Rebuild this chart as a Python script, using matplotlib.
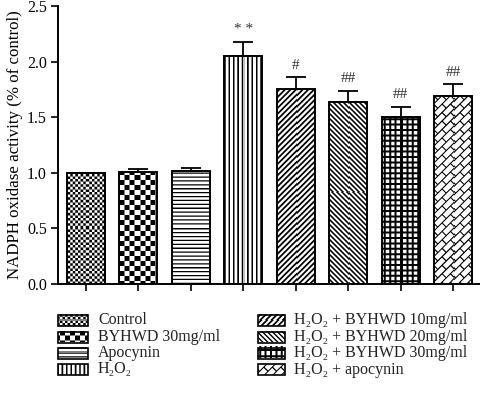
import numpy as np
import matplotlib
matplotlib.use("Agg")
import matplotlib.pyplot as plt
from matplotlib.patches import Rectangle

# ---------------- data ----------------
groups = ["Control", "BYHWD 30mg/ml", "Apocynin", "H₂O₂",
          "H₂O₂ + BYHWD 10mg/ml", "H₂O₂ + BYHWD 20mg/ml",
          "H₂O₂ + BYHWD 30mg/ml", "H₂O₂ + apocynin"]
values = [1.00, 1.01, 1.02, 2.05, 1.75, 1.64, 1.50, 1.69]
errors = [0.00, 0.02, 0.02, 0.13, 0.11, 0.10, 0.095, 0.11]
marks = ["", "", "", "* *", "#", "##", "##", "##"]
patterns = ["checker_fine", "checker_big", "hlines", "vlines",
            "diag_up", "diag_down", "grid", "brick"]
yticks = [0.0, 0.5, 1.0, 1.5, 2.0, 2.5]
ylabel = "NADPH oxidase activity (% of control)"

plt.rcParams["font.family"] = ["Liberation Serif", "DejaVu Serif"]

W, H = 481, 401
fig = plt.figure(figsize=(W / 100, H / 100), dpi=100)


def darkness(kind, X, Y):
    if kind == "checker_fine":
        c = 2.6
        return ((np.floor(X / c) + np.floor(Y / c)) % 2).astype(float)
    if kind == "checker_big":
        c = 5.0
        return ((np.floor(X / c) + np.floor(Y / c)) % 2).astype(float)
    if kind == "hlines":
        return ((Y % 3.9) < 1.3).astype(float)
    if kind == "vlines":
        return ((X % 4.4) < 1.6).astype(float)
    if kind == "diag_up":
        return (((X - Y) % 5.6) < 2.5).astype(float)
    if kind == "diag_down":
        return (((X + Y) % 5.0) < 2.2).astype(float)
    if kind == "grid":
        P, w = 5.4, 2.0
        return (((X % P) < w) | ((Y % P) < w)).astype(float)
    if kind == "brick":
        s2 = np.sqrt(2)
        p = (X - Y) / s2
        q = (X + Y) / s2
        P, Q, w = 6.0, 12.0, 1.1
        row = np.floor(p / P)
        off = (row % 2) * Q / 2
        return (((p % P) < w) | (((q + off) % Q) < w)).astype(float)
    return np.zeros_like(X)


def texture(kind, x0, y0, x1, y1, ss=4):
    nw = max(1, int(round(x1 - x0)))
    nh = max(1, int(round(y1 - y0)))
    xs = x0 + (np.arange(nw * ss) + 0.5) / ss
    ys = y0 + (np.arange(nh * ss) + 0.5) / ss
    X, Y = np.meshgrid(xs, ys)
    d = darkness(kind, X, Y)
    d = d.reshape(nh, ss, nw, ss).mean(axis=(1, 3))
    return 1.0 - d


# ---------------- main axes ----------------
ax = fig.add_axes([58 / W, (H - 284) / H, (480 - 58) / W, 278 / H])
x = np.arange(len(values))
ax.set_xlim(-0.535, 7.515)
ax.set_ylim(0, 2.5)

ax.errorbar(x, values, yerr=[np.zeros(len(errors)), errors], fmt="none",
            ecolor="black", elinewidth=1.3, capsize=7.5, capthick=1.3, zorder=1)
bars = ax.bar(x, values, width=0.725, color="white", edgecolor="none", zorder=2)

for b, kind in zip(bars, patterns):
    (dx0, dy0), (dx1, dy1) = ax.transData.transform(
        [(b.get_x(), 0), (b.get_x() + b.get_width(), b.get_height())])
    img = texture(kind, dx0, dy0, dx1, dy1)
    im = ax.imshow(img, extent=[b.get_x(), b.get_x() + b.get_width(), 0, b.get_height()],
                   origin="lower", cmap="gray", vmin=0, vmax=1,
                   interpolation="nearest", aspect="auto", zorder=2.5)
    im.set_clip_path(b)

ax.bar(x, values, width=0.725, fill=False, edgecolor="black", linewidth=1.4, zorder=3)

for xi, v, e, m in zip(x, values, errors, marks):
    if m:
        ax.annotate(m, (xi, v + e), xytext=(0, 8.5), textcoords="offset points",
                    ha="center", va="center", fontsize=11, color="#333333")

ax.set_aspect("auto")
ax.set_yticks(yticks)
ax.set_yticklabels([f"{t:.1f}" for t in yticks], fontsize=11.5)
ax.set_xticks(x)
ax.set_xticklabels([])
ax.tick_params(axis="both", direction="out", length=5, width=1.2, colors="black")
ax.tick_params(axis="y", pad=3)
for s in ["top", "right"]:
    ax.spines[s].set_visible(False)
for s in ["left", "bottom"]:
    ax.spines[s].set_linewidth(1.4)
ax.set_ylabel(ylabel, fontsize=12.2, labelpad=3)

# ---------------- legend (pixel coordinates) ----------------
lax = fig.add_axes([0, 0, 1, 101 / H])
lax.set_xlim(0, W)
lax.set_ylim(101, 0)
lax.axis("off")
row_y = [20.5, 37, 53, 69.5]
col_hx = [58, 258]
col_hw = [30, 27]
col_tx = [98, 294]
for i, (lab, kind) in enumerate(zip(groups, patterns)):
    col, row = divmod(i, 4)
    hx, hw = col_hx[col], col_hw[col]
    cy = row_y[row]
    hh = 11
    (px0, py0), (px1, py1) = lax.transData.transform([(hx, cy + hh / 2), (hx + hw, cy - hh / 2)])
    img = texture(kind, px0, py0, px1, py1)
    lax.imshow(img, extent=[hx, hx + hw, cy + hh / 2, cy - hh / 2], origin="lower",
               cmap="gray", vmin=0, vmax=1, interpolation="nearest",
               aspect="auto", zorder=2)
    lax.add_patch(Rectangle((hx, cy - hh / 2), hw, hh, fill=False,
                            edgecolor="black", linewidth=1.2, zorder=3))
    lax.text(col_tx[col], cy, lab, ha="left", va="center", fontsize=11.5, color="#222222")
lax.set_xlim(0, W)
lax.set_ylim(101, 0)

fig.savefig("out.png", dpi=100)
